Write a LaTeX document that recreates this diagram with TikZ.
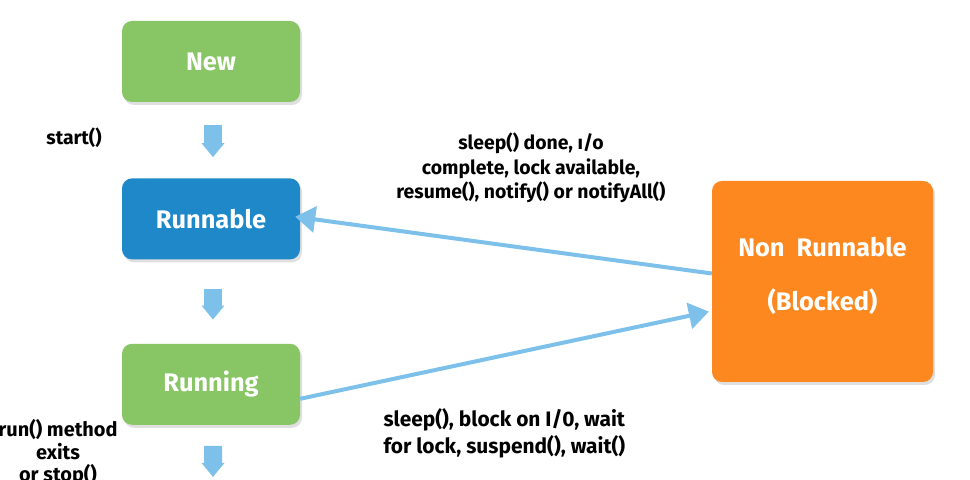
\documentclass[tikz,border=0pt]{standalone}
\usepackage{fontspec}
\setmainfont{Fira Sans}
\usepackage{tikz}
\usetikzlibrary{arrows.meta,positioning,shadows}
\definecolor{stgreen}{HTML}{88C565}
\definecolor{stblue}{HTML}{1F88C8}
\definecolor{storange}{HTML}{FD8820}
\definecolor{arrowblue}{HTML}{7DC1EA}

\begin{document}
\begin{tikzpicture}[
      x=1bp, y=1bp,
      state/.style={rectangle, rounded corners=10bp, minimum width=178bp,
      minimum height=81bp, text=white, font=\fontsize{25.5}{30}\selectfont\bfseries,
      drop shadow={shadow xshift=2bp, shadow yshift=-3bp, opacity=0.25}},
      lbl/.style={font=\fontsize{19.5}{24.5}\selectfont\bfseries, align=center},
      down/.style={arrowblue, line width=18bp, -{Triangle[length=14bp,width=22bp]}},
      trans/.style={arrowblue, line width=4bp, -{Triangle[length=20bp,width=26bp]}}]
    \useasboundingbox (0,0) rectangle (970,480);
    % states
    \node[state, fill=stgreen] (new) at (211,418.5) {New};
    \node[state, fill=stblue, below=76bp of new] (runnable) {Runnable};
    \node[state, fill=stgreen, below=84bp of runnable] (running) {Running};
    \node[state, fill=storange, minimum width=221bp, minimum height=201bp,
      font=\fontsize{25.5}{54}\selectfont\bfseries, align=center]
      (blocked) at (822.5,198.5) {Non~~Runnable\\(Blocked)\\[-38bp]};
    \coordinate (exit) at (213,3);
    % labels
    \node[lbl] (start) at (74,342) {start()};
    \node[lbl] (wake) at (531,312) {sleep() done, ı/o\\complete, lock available,\\resume(), notify() or notifyAll()};
    \node[lbl, align=left, anchor=west, font=\fontsize{21}{27}\selectfont\bfseries]
      (sleep) at (380,46.5) {sleep(), block on I/0, wait\\for lock, suspend(), wait()};
    \node[lbl, font=\fontsize{20}{22.5}\selectfont\bfseries] (stop) at (58,27) {run() method\\exits\\or stop()};
    % transitions
    \draw[down, shorten <=23bp, shorten >=21bp] ([xshift=2bp]new.south) -- ([xshift=2bp]runnable.north);
    \draw[down, shorten <=29bp, shorten >=24bp] ([xshift=2bp]runnable.south) -- ([xshift=2bp]running.north);
    \draw[down, shorten <=21bp] ([xshift=2bp]running.south) -- (exit);
    \draw[trans, shorten >=-5bp] ([yshift=8bp]blocked.west) -- ([yshift=1.5bp]runnable.east);
    \draw[trans, shorten >=3bp] ([yshift=-14.5bp]running.east) -- ([yshift=-29.5bp]blocked.west);
  \end{tikzpicture}
\end{document}
